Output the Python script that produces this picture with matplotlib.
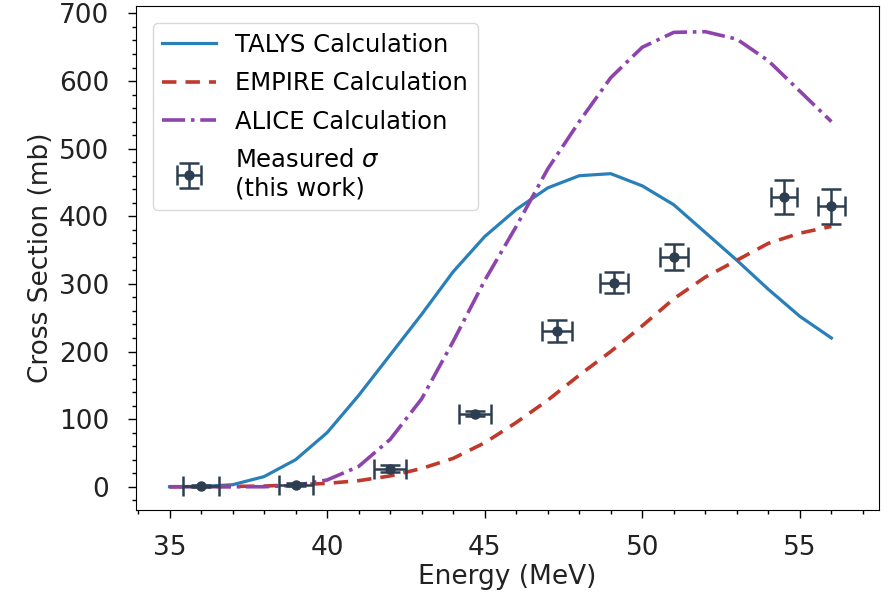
import numpy as np
import matplotlib.pyplot as plt
from matplotlib.ticker import AutoMinorLocator

# --- model calculations (mb) at integer energies ---
energy = [35, 36, 37, 38, 39, 40, 41, 42, 43, 44, 45, 46, 47, 48, 49, 50, 51, 52, 53, 54, 55, 56]
talys = [0, 0.5, 3, 15, 40, 80, 135, 195, 255, 318, 370, 410, 442, 460, 463, 445, 417, 376, 335, 292, 252, 220]
empire = [0, 0, 0.5, 1, 3, 5, 9, 16, 27, 42, 65, 95, 128, 165, 200, 238, 278, 310, 335, 360, 375, 385]
alice = [0, 0, 0, 0, 2, 10, 30, 70, 130, 215, 305, 385, 470, 540, 605, 650, 672, 673, 662, 630, 585, 540]

# --- measured cross sections ---
meas_e = [36.0, 39.0, 42.0, 44.7, 47.3, 49.1, 51.0, 54.5, 56.0]
meas_de = [0.57, 0.54, 0.50, 0.50, 0.47, 0.45, 0.45, 0.42, 0.43]
meas_xs = [1, 3, 27, 108, 230, 302, 340, 428, 415]
meas_dxs = [2, 2, 5, 4, 16, 16, 19, 25, 26]

fig, ax = plt.subplots(figsize=(8.93, 5.99), dpi=100)
fig.subplots_adjust(left=0.152, right=0.984, top=0.99, bottom=0.149)

ax.plot(energy, talys, color='#2980b9', lw=2.3, label='TALYS Calculation')
ax.plot(energy, empire, color='#c0392b', lw=2.6, ls='--', dashes=(4, 2.5), label='EMPIRE Calculation')
ax.plot(energy, alice, color='#8e44ad', lw=2.6, ls='-.', label='ALICE Calculation')
ax.errorbar(meas_e, meas_xs, xerr=meas_de, yerr=meas_dxs, fmt='o', color='#2c3e50',
            ms=6.5, elinewidth=1.8, capsize=7, capthick=1.8,
            label='Measured $\\sigma$\n(this work)')

ax.set_xlabel('Energy (MeV)', fontsize=19, color='#222222', labelpad=2)
ax.set_ylabel('Cross Section (mb)', fontsize=19, color='#222222', labelpad=4)
ax.set_xticks([35, 40, 45, 50, 55])
ax.set_yticks(range(0, 701, 100))
ax.set_ylim(-34, 711)
ax.xaxis.set_minor_locator(AutoMinorLocator())
ax.yaxis.set_minor_locator(AutoMinorLocator())
ax.tick_params(which='major', labelsize=19, length=6, width=1, labelcolor='#222222')
ax.tick_params(which='minor', length=3, width=1)
ax.tick_params(axis='x', which='major', pad=12)
ax.tick_params(axis='y', which='major', pad=13)

ax.legend(loc='upper left', fontsize=17.5, frameon=True, fancybox=True,
          edgecolor='#d0d0d0', borderaxespad=0.7, labelspacing=0.6,
          handlelength=2.2)

fig.savefig('out.png', dpi=100)
